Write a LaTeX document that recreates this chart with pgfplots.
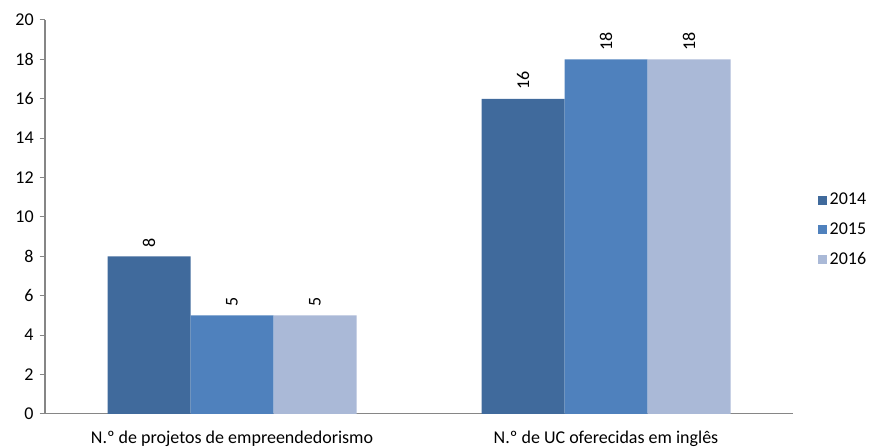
\documentclass[border=0pt]{standalone}
\usepackage{fontspec}
\setmainfont{Carlito}
\usepackage{pgfplots}
\pgfplotsset{compat=1.18}

\definecolor{cA}{HTML}{406A9C}
\definecolor{cB}{HTML}{4F81BD}
\definecolor{cC}{HTML}{AAB9D7}
\definecolor{axgray}{HTML}{868686}

\newcommand{\chartfont}{\fontsize{13.5}{15}\selectfont}

\begin{document}
\begin{tikzpicture}
\useasboundingbox (0pt,0pt) rectangle (656.25pt,336pt);
\begin{axis}[
  at={(33.75pt,25.5pt)}, anchor=south west,
  scale only axis,
  width=561pt, height=295.5pt,
  ybar=0pt, bar width=62.25pt,
  xmin=-0.5, xmax=1.5,
  ymin=0, ymax=20,
  ytick={0,2,...,20},
  xtick={0,1},
  xticklabels={N.º de projetos de empreendedorismo, N.º de UC oferecidas em inglês},
  extra x ticks={0.5,1.5},
  extra x tick labels={},
  extra x tick style={major tick length=4pt, tick style={axgray, line width=0.75pt}},
  major x tick style={draw=none},
  axis x line*=bottom, axis y line*=left,
  axis line style={axgray, line width=0.75pt, -},
  tick style={axgray, line width=0.75pt},
  tick align=outside,
  major tick length=4pt,
  ytick pos=left,
  xtick pos=bottom,
  /pgf/number format/assume math mode=true,
  tick label style={font=\chartfont, black},
  xticklabel style={yshift=-5pt},
  yticklabel style={xshift=-1pt},
  nodes near coords,
  nodes near coords style={rotate=90, anchor=west, font=\chartfont, black, inner sep=6.5pt},
  legend style={at={(1.033,0.467)}, anchor=west, draw=none, fill=none,
    font=\chartfont, row sep=8pt, inner sep=0pt},
  legend cell align=left,
  area legend,
  legend image code/.code={\fill[#1] (0pt,-3.4pt) rectangle (6.8pt,3.4pt);},
]
\addplot[fill=cA, draw=none] coordinates {(0,8) (1,16)};
\addplot[fill=cB, draw=none] coordinates {(0,5) (1,18)};
\addplot[fill=cC, draw=none] coordinates {(0,5) (1,18)};
\legend{2014,2015,2016}
\end{axis}
\end{tikzpicture}
\end{document}
